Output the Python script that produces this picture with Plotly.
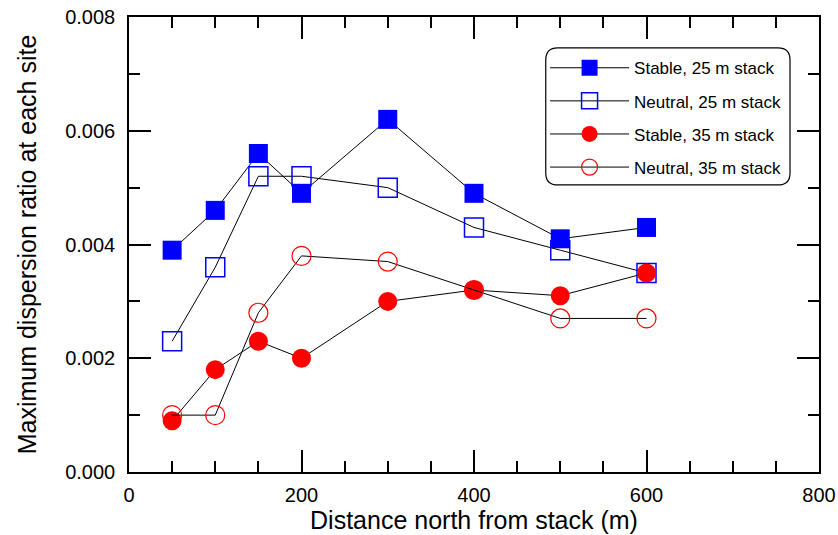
import plotly.graph_objects as go

distance = [50, 100, 150, 200, 300, 400, 500, 600]
stable_25 = [0.0039, 0.0046, 0.0056, 0.0049, 0.0062, 0.0049, 0.0041, 0.0043]
neutral_25 = [0.0023, 0.0036, 0.0052, 0.0052, 0.0050, 0.0043, 0.0039, 0.0035]
stable_35 = [0.0009, 0.0018, 0.0023, 0.0020, 0.0030, 0.0032, 0.0031, 0.0035]
neutral_35 = [0.0010, 0.0010, 0.0028, 0.0038, 0.0037, 0.0032, 0.0027, 0.0027]
names = ["Stable, 25 m stack", "Neutral, 25 m stack", "Stable, 35 m stack", "Neutral, 35 m stack"]

FONT = "Liberation Sans, Arial, sans-serif"
fig = go.Figure()

series = [
    (stable_25, dict(symbol="square", color="#0000ff", size=19, line=dict(width=0))),
    (neutral_25, dict(symbol="square-open", color="#0000ff", size=19, line=dict(width=1.5))),
    (stable_35, dict(symbol="circle", color="#ff0000", size=19, line=dict(width=0))),
    (neutral_35, dict(symbol="circle-open", color="#ff0000", size=19, line=dict(width=1.2))),
]
for i, (vals, mk) in enumerate(series):
    fig.add_trace(go.Scatter(
        x=distance, y=vals, name=names[i], mode="lines+markers",
        line=dict(color="black", width=1), marker=mk, legendgroup=f"g{i}",
    ))

axis_common = dict(
    showline=True, linecolor="black", linewidth=1.5, mirror="ticks",
    ticks="inside", ticklen=22, tickwidth=1.5, tickcolor="black",
    showgrid=False, zeroline=False, automargin=False,
    tickfont=dict(family=FONT, size=20, color="black"),
)
fig.update_xaxes(
    **axis_common, range=[0, 800], dtick=200, tick0=0,
    minor=dict(ticks="inside", ticklen=11, tickwidth=1.5, tickcolor="black", dtick=50, showgrid=False),
    title=dict(text="Distance north from stack (m)", font=dict(family=FONT, size=25, color="black"), standoff=2),
    ticklabelstandoff=4,
)
fig.update_yaxes(
    **axis_common, range=[0, 0.008], dtick=0.002, tick0=0, tickformat=".3f",
    minor=dict(ticks="inside", ticklen=11, tickwidth=1.5, tickcolor="black", dtick=0.001, showgrid=False),
    title=dict(text="Maximum dispersion ratio at each site", font=dict(family=FONT, size=25, color="black"), standoff=21),
    ticklabelstandoff=8,
)

# rounded legend frame (paper coords)
x0, x1, y0, y1 = 0.604, 0.958, 0.631, 0.932
rx, ry = 0.0174, 0.0264
path = (f"M {x0+rx},{y1} L {x1-rx},{y1} Q {x1},{y1} {x1},{y1-ry} L {x1},{y0+ry} "
        f"Q {x1},{y0} {x1-rx},{y0} L {x0+rx},{y0} Q {x0},{y0} {x0},{y0+ry} "
        f"L {x0},{y1-ry} Q {x0},{y1} {x0+rx},{y1} Z")
fig.add_shape(type="path", path=path, xref="paper", yref="paper",
              line=dict(color="black", width=1.2), fillcolor="rgba(0,0,0,0)")

fig.update_layout(
    width=838, height=535,
    margin=dict(l=129, r=19, t=17, b=63),
    paper_bgcolor="white", plot_bgcolor="white",
    font=dict(family=FONT, color="black"),
    legend=dict(x=0.603, y=0.927, xanchor="left", yanchor="top",
                bgcolor="rgba(0,0,0,0)", borderwidth=0,
                font=dict(family=FONT, size=17, color="black"),
                tracegroupgap=8, itemwidth=79, itemsizing="trace"),
)
fig.write_html("out.html")
